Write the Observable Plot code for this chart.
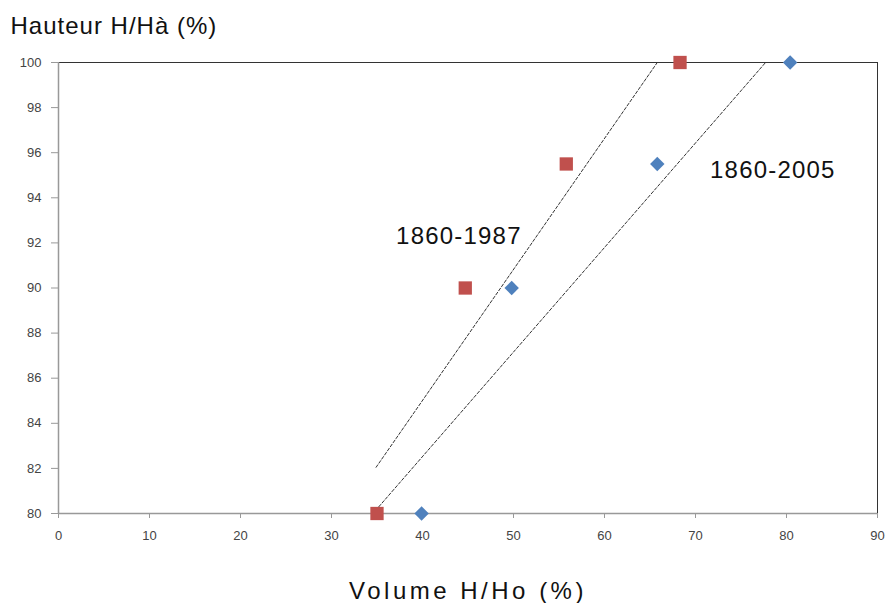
<!DOCTYPE html>
<html>
<head>
<meta charset="utf-8">
<script src="https://cdn.jsdelivr.net/npm/d3@7"></script>
<script src="https://cdn.jsdelivr.net/npm/@observablehq/plot@0.6"></script>
<style>
  html, body { margin: 0; padding: 0; background: #fff; }
</style>
</head>
<body>
<div id="chart"></div>
<script>
// Series 1860-1987 (red squares)
const redX = [35, 44.7, 55.8, 68.3];
const redY = [80, 90, 95.5, 100];
// Series 1860-2005 (blue diamonds)
const blueX = [39.9, 49.8, 65.8, 80.4];
const blueY = [80, 90, 95.5, 100];
// Trendline endpoints
const trendRedX = [34.9, 65.8];
const trendRedY = [82.05, 100];
const trendBlueX = [35.2, 77.7];
const trendBlueY = [80.3, 100];
// Axis ticks
const xTicks = [0, 10, 20, 30, 40, 50, 60, 70, 80, 90];
const yTicks = [80, 82, 84, 86, 88, 90, 92, 94, 96, 98, 100];
// Annotations
const labels = ["1860-1987", "1860-2005"];
const labelX = [44, 78.5];
const labelY = [92.3, 95.2];

const red = redX.map((x, i) => ({x, y: redY[i]}));
const blue = blueX.map((x, i) => ({x, y: blueY[i]}));
const tRed = trendRedX.map((x, i) => ({x, y: trendRedY[i]}));
const tBlue = trendBlueX.map((x, i) => ({x, y: trendBlueY[i]}));
const ann = labels.map((t, i) => ({t, x: labelX[i], y: labelY[i]}));

const font = "'Liberation Sans', Arial, sans-serif";
const xTitle = "Volume H/Ho (%)";
const yTitle = "Hauteur H/Hà (%)";

const chart = Plot.plot({
  width: 890,
  height: 603,
  marginLeft: 58,
  marginRight: 13,
  marginTop: 62,
  marginBottom: 90,
  style: {fontFamily: font, background: "#fff"},
  x: {domain: [0, 90]},
  y: {domain: [80, 100]},
  marks: [
    Plot.ruleY([100], {stroke: "#333", strokeWidth: 1}),
    Plot.ruleX([90], {stroke: "#333", strokeWidth: 1}),
    Plot.ruleY([80], {stroke: "#999", strokeWidth: 1.5}),
    Plot.ruleX([0], {stroke: "#999", strokeWidth: 1.5}),
    Plot.axisX({ticks: xTicks, tickSize: 5, tickPadding: 12, stroke: "#999", fill: "#444", fontSize: 13, label: null}),
    Plot.axisY({ticks: yTicks, tickSize: 7, tickPadding: 10, stroke: "#999", fill: "#444", fontSize: 13, label: null}),
    Plot.line(tRed, {x: "x", y: "y", stroke: "#333", strokeWidth: 1, strokeDasharray: "3,2"}),
    Plot.line(tBlue, {x: "x", y: "y", stroke: "#333", strokeWidth: 1, strokeDasharray: "3,2"}),
    Plot.dot(blue, {x: "x", y: "y", symbol: "diamond2", r: 6.5, fill: "#4F81BD", stroke: "none"}),
    Plot.dot(red, {x: "x", y: "y", symbol: "square", r: 7.5, fill: "#C0504D", stroke: "none"}),
    Plot.text(ann, {x: "x", y: "y", text: "t", fontSize: 24, fill: "#111", textAnchor: "middle"}),
    Plot.text([xTitle], {frameAnchor: "bottom", dy: 85, fontSize: 24, fill: "#111"}),
    Plot.text([yTitle], {frameAnchor: "top-left", dx: -48, dy: -46, fontSize: 24, fill: "#111", textAnchor: "start"})
  ]
});
const spacing = new Map([[xTitle, 3.5], [yTitle, 1], ["1860-1987", 1.2], ["1860-2005", 1.2]]);
d3.select(chart).selectAll("text").each(function() {
  const s = spacing.get(this.textContent);
  if (s != null) this.style.letterSpacing = s + "px";
});
document.getElementById("chart").appendChild(chart);
</script>
</body>
</html>
